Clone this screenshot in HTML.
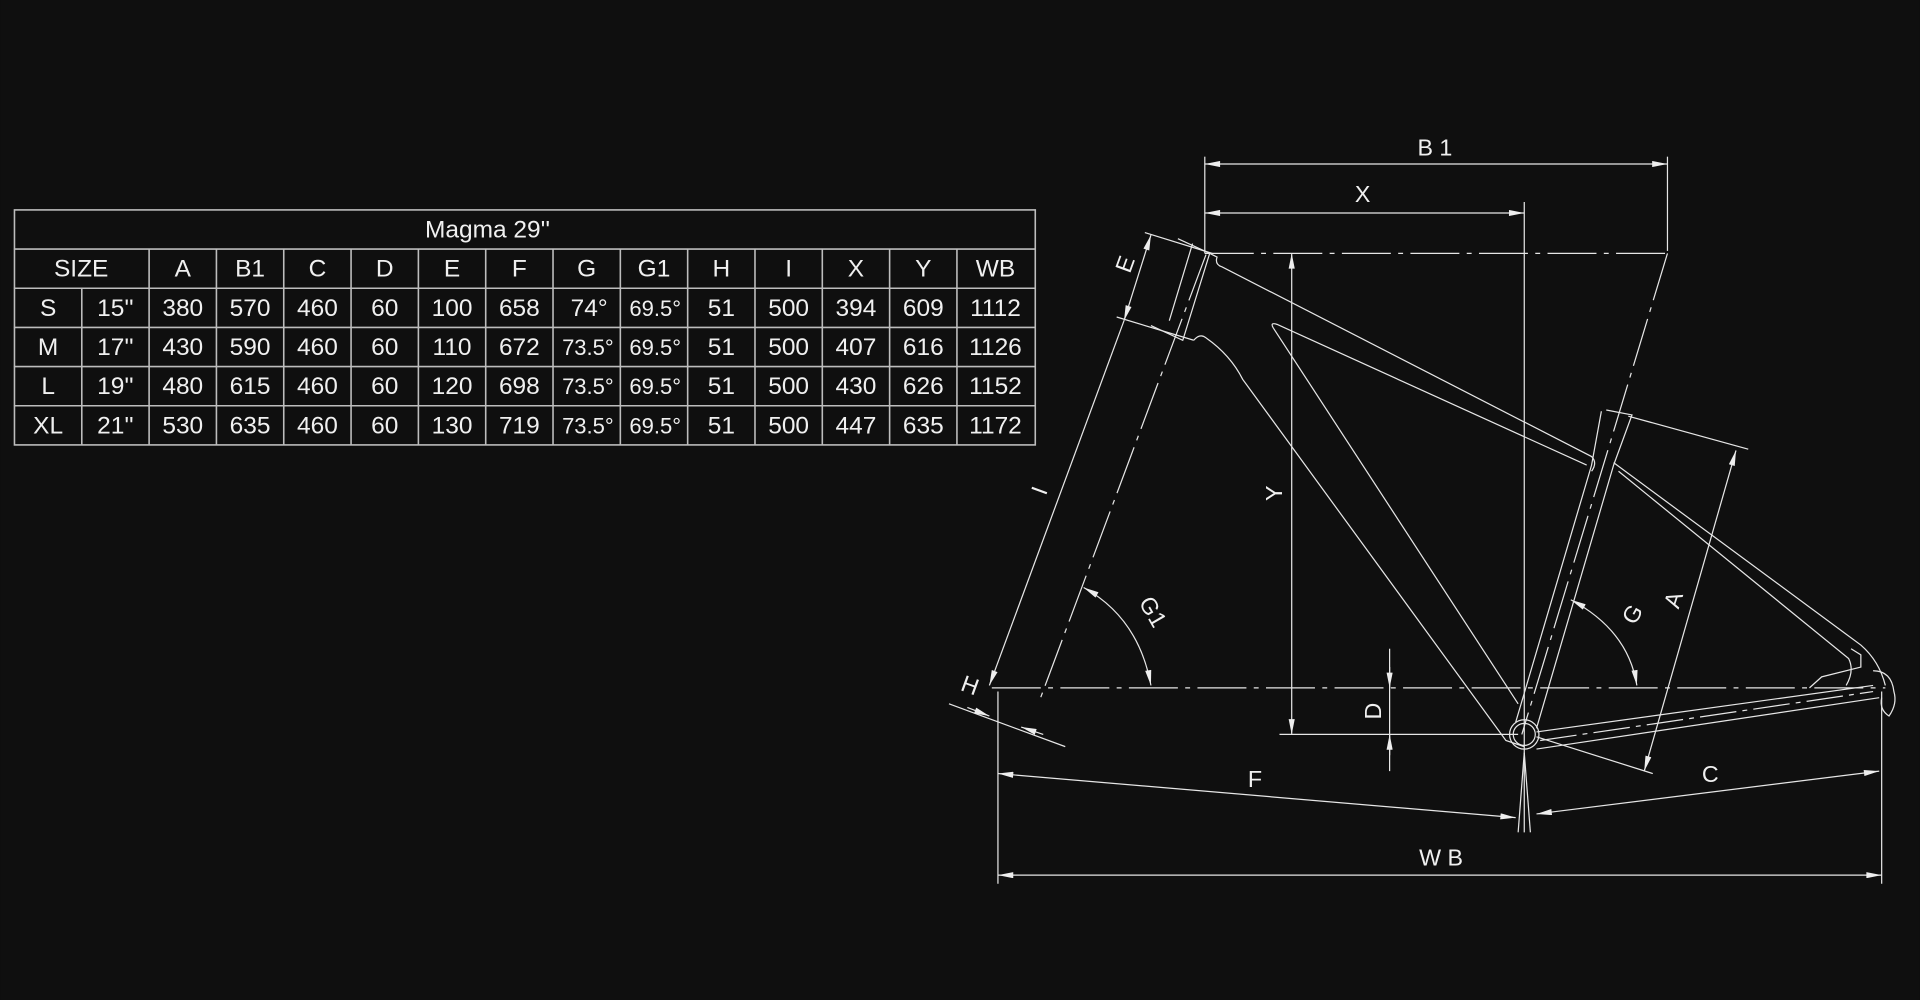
<!DOCTYPE html>
<html><head><meta charset="utf-8"><style>
html,body{margin:0;padding:0;background:#0f0f0f;width:1920px;height:1000px;overflow:hidden}
svg{display:block}
text{font-family:"Liberation Sans","DejaVu Sans",sans-serif;fill:#f0f0f0}
</style></head><body>
<svg width="1920" height="1000" viewBox="0 0 1568 817" xmlns="http://www.w3.org/2000/svg">
<defs>
<marker id="ar" viewBox="0 0 10 4" refX="10" refY="2" markerWidth="14" markerHeight="5" orient="auto-start-reverse" markerUnits="userSpaceOnUse"><path d="M0,0 L10,2 L0,4z" fill="#eee"/></marker>
</defs>
<rect width="1568" height="817" fill="#0f0f0f"/>
<g stroke="#bdbdbd" stroke-width="1.3" fill="none">
<rect x="11.5" y="171.5" width="834" height="192"/>
<line x1="11" y1="203.5" x2="846" y2="203.5"/>
<line x1="11" y1="235.5" x2="846" y2="235.5"/>
<line x1="11" y1="267.5" x2="846" y2="267.5"/>
<line x1="11" y1="299.5" x2="846" y2="299.5"/>
<line x1="11" y1="331.5" x2="846" y2="331.5"/>
<line x1="66.5" y1="235" x2="66.5" y2="364"/>
<line x1="121.5" y1="203" x2="121.5" y2="364"/><line x1="176.5" y1="203" x2="176.5" y2="364"/>
<line x1="231.5" y1="203" x2="231.5" y2="364"/><line x1="286.5" y1="203" x2="286.5" y2="364"/>
<line x1="341.5" y1="203" x2="341.5" y2="364"/><line x1="396.5" y1="203" x2="396.5" y2="364"/>
<line x1="451.5" y1="203" x2="451.5" y2="364"/><line x1="506.5" y1="203" x2="506.5" y2="364"/>
<line x1="561.5" y1="203" x2="561.5" y2="364"/><line x1="616.5" y1="203" x2="616.5" y2="364"/>
<line x1="671.5" y1="203" x2="671.5" y2="364"/><line x1="726.5" y1="203" x2="726.5" y2="364"/>
<line x1="781.5" y1="203" x2="781.5" y2="364"/>
</g>
<g font-size="20" text-anchor="middle">
<text x="398" y="194">Magma 29''</text>
<text x="66" y="226">SIZE</text><text x="149" y="226">A</text><text x="204" y="226">B1</text><text x="259" y="226">C</text><text x="314" y="226">D</text><text x="369" y="226">E</text><text x="424" y="226">F</text><text x="479" y="226">G</text><text x="534" y="226">G1</text><text x="589" y="226">H</text><text x="644" y="226">I</text><text x="699" y="226">X</text><text x="754" y="226">Y</text><text x="813" y="226">WB</text>
<text x="39" y="258">S</text><text x="94" y="258">15''</text><text x="149" y="258">380</text><text x="204" y="258">570</text><text x="259" y="258">460</text><text x="314" y="258">60</text><text x="369" y="258">100</text><text x="424" y="258">658</text><text x="481" y="258">74°</text><text x="535" y="258" font-size="18">69.5°</text><text x="589" y="258">51</text><text x="644" y="258">500</text><text x="699" y="258">394</text><text x="754" y="258">609</text><text x="813" y="258">1112</text>
<text x="39" y="290">M</text><text x="94" y="290">17''</text><text x="149" y="290">430</text><text x="204" y="290">590</text><text x="259" y="290">460</text><text x="314" y="290">60</text><text x="369" y="290">110</text><text x="424" y="290">672</text><text x="480" y="290" font-size="18">73.5°</text><text x="535" y="290" font-size="18">69.5°</text><text x="589" y="290">51</text><text x="644" y="290">500</text><text x="699" y="290">407</text><text x="754" y="290">616</text><text x="813" y="290">1126</text>
<text x="39" y="322">L</text><text x="94" y="322">19''</text><text x="149" y="322">480</text><text x="204" y="322">615</text><text x="259" y="322">460</text><text x="314" y="322">60</text><text x="369" y="322">120</text><text x="424" y="322">698</text><text x="480" y="322" font-size="18">73.5°</text><text x="535" y="322" font-size="18">69.5°</text><text x="589" y="322">51</text><text x="644" y="322">500</text><text x="699" y="322">430</text><text x="754" y="322">626</text><text x="813" y="322">1152</text>
<text x="39" y="354">XL</text><text x="94" y="354">21''</text><text x="149" y="354">530</text><text x="204" y="354">635</text><text x="259" y="354">460</text><text x="314" y="354">60</text><text x="369" y="354">130</text><text x="424" y="354">719</text><text x="480" y="354" font-size="18">73.5°</text><text x="535" y="354" font-size="18">69.5°</text><text x="589" y="354">51</text><text x="644" y="354">500</text><text x="699" y="354">447</text><text x="754" y="354">635</text><text x="813" y="354">1172</text>
</g>
<g stroke="#e6e6e6" stroke-width="1" fill="none">
<g stroke-dasharray="40,6,4,6">
<line x1="984" y1="207" x2="1362" y2="207"/>
<line x1="810" y1="562" x2="1540" y2="562"/>
<line x1="985" y1="208" x2="848" y2="575"/>
<line x1="1362" y1="207" x2="1243" y2="600"/>
</g>
<line x1="984" y1="128" x2="984" y2="207"/>
<line x1="1362" y1="128" x2="1362" y2="205"/>
<line x1="1245" y1="165" x2="1245" y2="680"/>
<line x1="1045" y1="600" x2="1240" y2="600"/>
<line x1="815" y1="565" x2="815" y2="722"/>
<line x1="1537" y1="565" x2="1537" y2="722"/>
<line x1="1330" y1="340" x2="1428" y2="367"/>
<line x1="1255" y1="602" x2="1350" y2="632"/>
<line x1="1135" y1="530" x2="1135" y2="630"/>
<line x1="775" y1="575" x2="870" y2="610"/>
<line x1="935" y1="190" x2="990" y2="207"/>
<line x1="912" y1="259" x2="975" y2="278"/>
<line x1="984" y1="134" x2="1362" y2="134" marker-start="url(#ar)" marker-end="url(#ar)"/>
<line x1="984" y1="174" x2="1245" y2="174" marker-start="url(#ar)" marker-end="url(#ar)"/>
<line x1="1055" y1="207" x2="1055" y2="600" marker-start="url(#ar)" marker-end="url(#ar)"/>
<line x1="1135" y1="545" x2="1135" y2="562" marker-end="url(#ar)"/>
<line x1="1135" y1="617" x2="1135" y2="600" marker-end="url(#ar)"/>
<line x1="1418" y1="368" x2="1343" y2="630" marker-start="url(#ar)" marker-end="url(#ar)"/>
<line x1="940" y1="192" x2="918" y2="262" marker-start="url(#ar)" marker-end="url(#ar)"/>
<line x1="918" y1="262" x2="808" y2="560" marker-end="url(#ar)"/>
<line x1="815" y1="632" x2="1238" y2="668" marker-start="url(#ar)" marker-end="url(#ar)"/>
<line x1="1255" y1="665" x2="1535" y2="630" marker-start="url(#ar)" marker-end="url(#ar)"/>
<line x1="815" y1="715" x2="1537" y2="715" marker-start="url(#ar)" marker-end="url(#ar)"/>
<line x1="790" y1="578" x2="808" y2="585" marker-end="url(#ar)"/>
<line x1="852" y1="600" x2="834" y2="594" marker-end="url(#ar)"/>
<path d="M885,480 Q930,505 940,560" marker-start="url(#ar)" marker-end="url(#ar)"/>
<path d="M1283,490 Q1330,515 1337,560" marker-start="url(#ar)" marker-end="url(#ar)"/>
<path d="M962,195 L988,207 L966,278 L940,266"/>
<line x1="974" y1="199" x2="955" y2="262"/>
<path d="M988,207 L994,210 Q992,216 998,218 L1300,373 Q1305,378 1300,385"/>
<path d="M1040,268 Q1037,263 1043,265 L1296,380"/>
<path d="M1322,385 L1510,538 Q1515,548 1508,560"/>
<path d="M1318,378 L1520,527 Q1535,540 1540,560"/>
<path d="M975,278 Q980,272 985,276 Q1005,290 1015,310 L1230,605 L1245,610"/>
<path d="M1040,268 L1240,575"/>
<path d="M1312,335 L1333,339 L1318,380 L1255,595"/>
<path d="M1308,336 L1300,380 L1238,590"/>
<path d="M1255,598 L1530,560"/>
<path d="M1255,612 L1535,570"/>
<path d="M1258,605 L1530,565" stroke-dasharray="30,5,4,5"/>
<path d="M1478,562 L1488,553 L1520,545 L1520,535 L1512,530"/>
<path d="M1530,548 Q1545,548 1547,565 Q1550,575 1543,585 Q1535,580 1537,570"/>
<circle cx="1245" cy="600" r="12"/>
<circle cx="1245" cy="600" r="9"/>
<line x1="1245" y1="615" x2="1240" y2="680"/>
<line x1="1245" y1="615" x2="1250" y2="680"/>
</g>
<g font-size="19" text-anchor="middle">
<text x="1172" y="127">B 1</text>
<text x="1113" y="165">X</text>
<text x="1177" y="707">W B</text>
<text x="1025" y="643">F</text>
<text x="1397" y="639">C</text>
<text transform="translate(1047,403) rotate(-90)">Y</text>
<text transform="translate(1128,581) rotate(-90)">D</text>
<text transform="translate(1373,492) rotate(-72)">A</text>
<text transform="translate(1339,505) rotate(-60)">G</text>
<text transform="translate(936,503) rotate(60)">G1</text>
<text transform="translate(855,403) rotate(-70)">I</text>
<text transform="translate(925,218) rotate(-70)">E</text>
<text transform="translate(790,566) rotate(20)">H</text>
</g>
</svg>
</body></html>
